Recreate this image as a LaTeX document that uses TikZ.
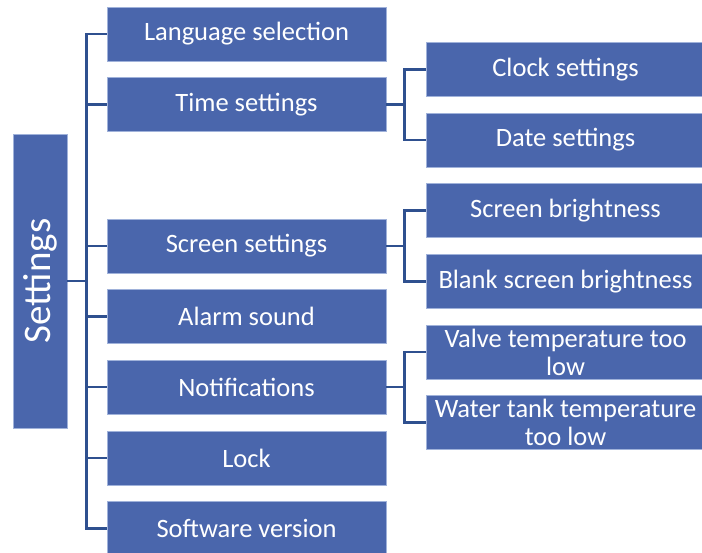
\documentclass[tikz,border=0pt]{standalone}
\usepackage{fontspec}
\setmainfont{Carlito}
\definecolor{boxfill}{RGB}{74,102,172}
\definecolor{boxedge}{RGB}{160,178,218}
\definecolor{linecol}{RGB}{47,80,143}
\tikzset{
  box/.style={fill=boxfill, draw=boxedge, line width=0.7pt, text=white, font=\fontsize{26.5}{28}\selectfont, minimum width=279pt, minimum height=54pt, inner sep=0pt, align=center},
  rootbox/.style={fill=boxfill, draw=boxedge, line width=0.7pt, text=white, font=\fontsize{39}{44}\selectfont, minimum width=54pt, minimum height=294pt, inner sep=0pt},
  conn/.style={draw=linecol, line width=2.8pt}
}
\begin{document}
\begin{tikzpicture}[x=1pt,y=-1pt]
\useasboundingbox (0,0) rectangle (702,553);
\clip (0,0) rectangle (702,553);
\node[rootbox] (set) at (40,281) {\rotatebox{90}{Settings}};
\node[box] (lang) at (246.5,34) {Language selection};
\node[box] (time) at (246.5,104.5) {Time settings};
\node[box] (scr) at (246.5,246) {Screen settings};
\node[box] (alarm) at (246.5,316.5) {Alarm sound};
\node[box] (notif) at (246.5,387) {Notifications};
\node[box] (lock) at (246.5,458) {Lock};
\node[box] (soft) at (246.5,528.5) {Software version};
\node[box] (clock) at (565.5,69.5) {Clock settings};
\node[box] (date) at (565.5,140) {Date settings};
\node[box] (sb) at (565.5,210.5) {Screen brightness};
\node[box] (bsb) at (565.5,281.5) {Blank screen brightness};
\node[box] (valve) at (565.5,352) {Valve temperature too\\low};
\node[box] (water) at (565.5,422.5) {Water tank temperature\\too low};
% main trunk
\draw[conn] (set.east) -- ++(20,0);
\draw[conn] (lang.west) -- ++(-20,0) |- (soft.west);
\foreach \n in {time,scr,alarm,notif,lock}{\draw[conn] (\n.west) -- ++(-20,0);}
% sub trees
\draw[conn] (time.east) -- ++(19,0);
\draw[conn] (clock.west) -- ++(-21,0) |- (date.west);
\draw[conn] (scr.east) -- ++(19,0);
\draw[conn] (sb.west) -- ++(-21,0) |- (bsb.west);
\draw[conn] (notif.east) -- ++(19,0);
\draw[conn] (valve.west) -- ++(-21,0) |- (water.west);
\end{tikzpicture}
\end{document}
